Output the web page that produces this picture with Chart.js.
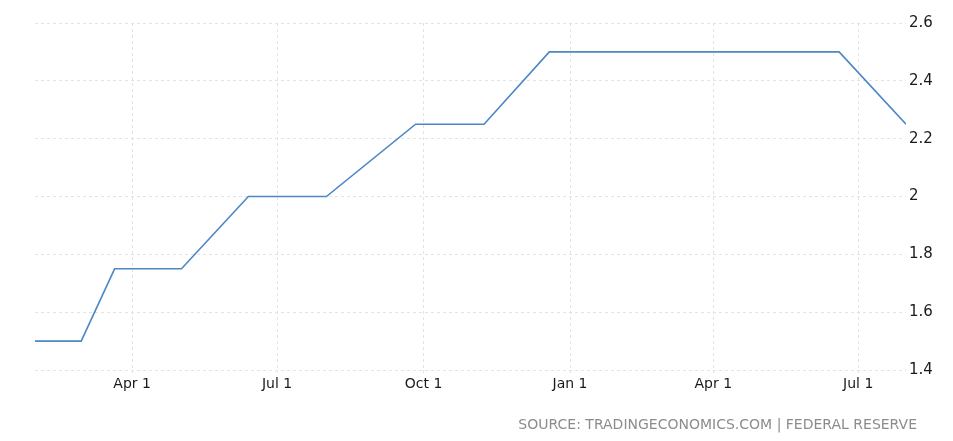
<!DOCTYPE html>
<html><head><meta charset="utf-8">
<script src="https://cdn.jsdelivr.net/npm/chart.js@4/dist/chart.umd.min.js"></script>
<style>
html,body{margin:0;padding:0;background:#fff;}
#wrap{position:relative;width:953px;height:441px;}
#src{position:absolute;right:36px;top:416px;font-family:"DejaVu Sans",Verdana,sans-serif;font-size:14px;color:#8c8c8c;}
</style></head>
<body><div id="wrap"><canvas id="c" width="953" height="441"></canvas>
<div id="src">SOURCE: TRADINGECONOMICS.COM | FEDERAL RESERVE</div></div>
<script>
const dates = ["2018-01-30","2018-02-28","2018-03-21","2018-05-02","2018-06-13","2018-08-01","2018-09-26","2018-11-08","2018-12-19","2019-01-30","2019-03-20","2019-05-01","2019-06-19","2019-07-31"];
const rates = [1.5,1.5,1.75,1.75,2.0,2.0,2.25,2.25,2.5,2.5,2.5,2.5,2.5,2.25];
const xTickDates = ["2018-04-01","2018-07-01","2018-10-01","2019-01-01","2019-04-01","2019-07-01"];
const xTickLabels = ["Apr 1","Jul 1","Oct 1","Jan 1","Apr 1","Jul 1"];
const yTicks = [1.4,1.6,1.8,2.0,2.2,2.4,2.6];

const dayNum = s => Date.parse(s + "T00:00:00Z") / 86400000;
const pts = dates.map((d,i)=>({x:dayNum(d), y:rates[i]}));
const xt = xTickDates.map(dayNum);

new Chart(document.getElementById('c'), {
  type:'line',
  data:{datasets:[{data:pts,borderColor:'#4d87c4',borderWidth:1.6,pointRadius:0,tension:0,fill:false}]},
  options:{
    responsive:false,animation:false,
    layout:{padding:{left:35,top:23,bottom:31,right:0}},
    plugins:{legend:{display:false},tooltip:{enabled:false}},
    scales:{
      x:{type:'linear',min:pts[0].x,max:pts[pts.length-1].x,
        afterBuildTicks:s=>{s.ticks=xt.map(v=>({value:v}));},
        afterFit:s=>{s.height=40;},
        border:{display:false,dash:[3,3]},
        grid:{color:'#e3e3e3',lineWidth:1,tickLength:3,tickColor:'#e3e3e3'},
        ticks:{autoSkip:false,maxRotation:0,padding:3,color:'#1a1a1a',font:{family:'DejaVu Sans',size:14},
          callback:(v)=>{const i=xt.indexOf(v);return i>=0?xTickLabels[i]:'';}}
      },
      y:{position:'right',min:1.4,max:2.6,
        afterBuildTicks:s=>{s.ticks=yTicks.map(v=>({value:v}));},
        afterFit:s=>{s.width=47;},
        border:{display:false,dash:[3,3]},
        grid:{color:'#e3e3e3',lineWidth:1,tickLength:0,drawTicks:false},
        ticks:{padding:3,color:'#1a1a1a',font:{family:'DejaVu Sans',size:15},
          callback:v=>String(Math.round(v*10)/10)}
      }
    }
  }
});
</script></body></html>
